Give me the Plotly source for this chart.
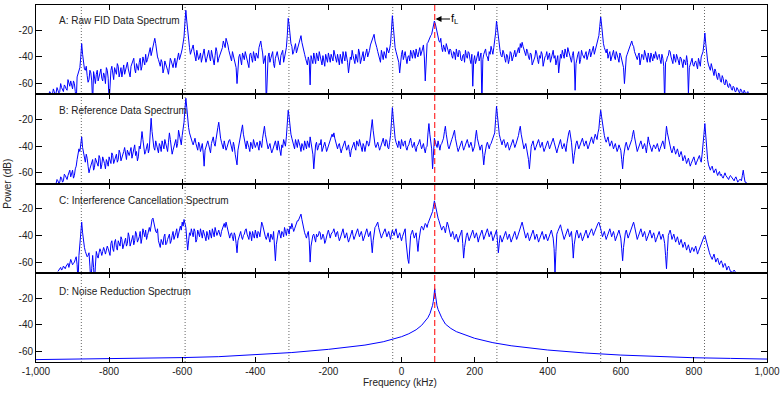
import plotly.graph_objects as go

N = None
FREQ_START = -1000   # kHz
FREQ_STEP = 2.5      # kHz
N_POINTS = 800
freq_khz = [FREQ_START + FREQ_STEP * i for i in range(N_POINTS)]

# Values are read at 5 kHz steps ("even" samples at -1000, -995, ...) and at the
# half-way frequencies ("odd" samples at -997.5, -992.5, ...). One row = 100 kHz.

# A: Raw FID data spectrum (dB)
raw_fid_even = [
    N, N, N, N, N, N, N, -68, -67, -68, -66, -67, -65, -66, -63, -66, -62, -65, -61, -58,
    -64, -60, -75, -52, -48, -30, -44, -50, -54, -57, -52, -75, -55, -53, -58, -51, -56, -52, -60, -50,
    -75, -50, -54, -48, -53, -47, -51, -55, -46, -50, -44, -52, -47, -43, -49, -45, -50, -41, -47, -43,
    -38, -42, -35, -39, -31, -26, -36, -42, -47, -44, -49, -45, -50, -46, -43, -48, -41, -44, -37, -40,
    -34, -25, -5, -22, -33, -36, -31, -40, -35, -42, -37, -41, -34, -44, -38, -40, -35, -43, -39, -36,
    -41, -37, -33, -30, -26, -31, -38, -43, -39, -46, -60, -40, -44, -37, -42, -39, -45, -38, -41, -36,
    -43, -39, -33, -28, -37, -42, -75, -40, -44, -38, -45, -41, -36, -43, -39, -35, -41, -33, -11, -26,
    -32, -36, -30, -34, -28, -24, -33, -38, -44, -40, -61, -42, -37, -45, -40, -36, -43, -39, -47, -41,
    -37, -44, -40, -35, -42, -38, -46, -41, -36, -43, -39, -52, -40, -35, -42, -38, -44, -37, -41, -36,
    -40, -34, -38, -31, -27, -23, -30, -36, -40, -35, -42, -38, -33, -37, -30, -9, -28, -36, -40, -52,
    -38, -42, -36, -45, -39, -35, -41, -37, -34, -40, -33, -37, -31, -58, -30, -27, -24, -20, -13, -19,
    -25, -29, -33, -31, -36, -33, -38, -35, -41, -37, -34, -40, -36, -43, -38, -35, -41, -37, -45, -62,
    -39, -42, -36, -40, -75, -38, -34, -40, -36, -32, -38, -29, -13, -27, -36, -40, -37, -44, -39, -42,
    -37, -41, -35, -38, -33, -30, -29, -34, -39, -36, -42, -38, -44, -40, -37, -45, -41, -38, -43, -39,
    -42, -37, -40, -35, -39, -43, -52, -38, -35, -41, -37, -33, -39, -44, -36, -65, -40, -36, -42, -38,
    -41, -36, -39, -34, -37, -32, -35, -30, -24, -10, -25, -33, -37, -41, -36, -40, -35, -42, -38, -44,
    -39, -45, -60, -40, -36, -33, -28, -32, -38, -42, -37, -43, -39, -35, -41, -37, -44, -40, -38, -36,
    -42, -38, -45, -41, -75, -43, -39, -36, -42, -38, -44, -40, -46, -41, -48, -43, -39, -68, -45, -41,
    -47, -43, -49, -44, -40, -36, -22, -38, -46, -50, -48, -54, -51, -57, -53, -59, -56, -61, -58, -63,
    -61, -65, -63, -66, -64, -67, -65, -68, -66, -67, -68, N, N, N, N, N, N, N, N, N,
]
raw_fid_odd = [
    N, N, N, N, N, N, N, -66, -69, -64, -68, -63, -67, -60, -65, -61, -64, -57, -62, -61,
    -58, -66, -55, -49, -40, -38, -49, -47, -59, -50, -58, -51, -60, -50, -55, -49, -58, -54, -48, -56,
    -54, -47, -57, -50, -45, -55, -48, -51, -53, -47, -49, -55, -45, -41, -52, -47, -44, -50, -40, -46,
    -44, -39, -33, -36, -29, -30, -40, -45, -42, -52, -43, -47, -53, -41, -46, -44, -48, -40, -42, -37,
    -30, -14, -13, -28, -38, -34, -36, -43, -38, -40, -44, -38, -40, -41, -35, -43, -39, -46, -33, -44,
    -39, -35, -28, -33, -28, -35, -41, -36, -42, -48, -45, -38, -46, -40, -36, -42, -48, -37, -44, -40,
    -37, -41, -31, -33, -45, -39, -46, -37, -41, -36, -48, -38, -40, -46, -37, -44, -36, -24, -16, -30,
    -38, -33, -37, -31, -27, -29, -36, -41, -46, -43, -39, -45, -40, -37, -43, -39, -46, -42, -38, -44,
    -41, -38, -43, -39, -44, -41, -38, -45, -39, -36, -44, -46, -42, -39, -45, -41, -34, -45, -39, -43,
    -37, -40, -35, -29, -25, -28, -33, -39, -44, -38, -36, -41, -35, -34, -20, -17, -33, -39, -44, -41,
    -35, -39, -41, -40, -43, -38, -35, -41, -38, -36, -39, -34, -40, -36, -29, -25, -23, -17, -15, -23,
    -28, -26, -36, -34, -30, -37, -34, -39, -36, -42, -38, -35, -42, -39, -44, -39, -36, -42, -38, -43,
    -45, -38, -43, -37, -42, -35, -39, -43, -38, -35, -33, -22, -19, -32, -39, -35, -41, -38, -45, -36,
    -43, -38, -40, -35, -37, -33, -32, -37, -34, -40, -37, -46, -41, -35, -42, -39, -36, -47, -40, -36,
    -39, -44, -36, -41, -46, -39, -44, -41, -38, -34, -40, -36, -42, -39, -43, -45, -38, -45, -35, -40,
    -38, -42, -37, -40, -35, -38, -33, -28, -17, -16, -30, -36, -34, -38, -43, -37, -40, -36, -41, -37,
    -42, -48, -43, -38, -34, -30, -31, -36, -40, -39, -46, -38, -42, -38, -44, -41, -37, -43, -41, -40,
    -39, -42, -38, -47, -44, -40, -35, -40, -45, -41, -38, -43, -40, -45, -42, -46, -44, -48, -43, -46,
    -44, -46, -41, -47, -38, -30, -30, -43, -49, -45, -52, -49, -55, -52, -58, -54, -60, -57, -62, -60,
    -64, -62, -66, -63, -66, -64, -67, -65, -68, -66, N, N, N, N, N, N, N, N, N, N,
]

# B: Reference data spectrum (dB)
reference_even = [
    N, N, N, N, N, N, N, N, N, N, N, -68, -66, -67, -64, -66, -62, -65, -60, -63,
    -58, -62, -55, -47, -44, -33, -46, -52, -49, -60, -54, -50, -56, -51, -55, -49, -54, -50, -57, -52,
    -48, -53, -47, -51, -46, -50, -45, -49, -44, -48, -43, -47, -41, -46, -39, -44, -48, -42, -29, -40,
    -44, -38, -42, -19, -37, -43, -39, -45, -40, -36, -42, -38, -44, -30, -39, -43, -37, -41, -28, -36,
    -32, -22, -4, -20, -30, -35, -39, -34, -41, -37, -44, -38, -55, -40, -36, -42, -38, -33, -40, -28,
    -22, -34, -40, -36, -43, -38, -35, -41, -37, -46, -54, -39, -33, -24, -36, -42, -38, -44, -39, -35,
    -41, -37, -43, -39, -34, -25, -36, -42, -38, -45, -40, -36, -43, -39, -47, -41, -37, -33, -13, -27,
    -34, -39, -35, -41, -37, -44, -40, -36, -42, -38, -33, -40, -57, -39, -43, -38, -35, -41, -37, -44,
    -40, -36, -31, -30, -37, -42, -38, -45, -40, -36, -43, -39, -48, -41, -37, -43, -39, -35, -42, -38,
    -44, -36, -40, -33, -20, -35, -41, -37, -43, -38, -34, -40, -36, -42, -32, -11, -29, -37, -41, -38,
    -35, -40, -36, -43, -39, -34, -41, -37, -44, -39, -35, -42, -38, -45, -40, -23, -36, -57, -34, -39,
    -36, -43, -38, -34, -25, -37, -42, -38, -33, -28, -39, -44, -40, -36, -43, -39, -35, -41, -37, -44,
    -40, -28, -38, -43, -39, -54, -41, -37, -42, -38, -34, -30, -10, -26, -34, -39, -35, -41, -37, -43,
    -39, -35, -41, -37, -32, -25, -36, -42, -38, -45, -57, -40, -36, -43, -39, -35, -41, -37, -44, -40,
    -36, -42, -38, -34, -40, -45, -39, -35, -42, -38, -44, -33, -28, -37, -53, -40, -36, -42, -38, -34,
    -40, -36, -42, -37, -33, -38, -31, -35, -27, -13, -24, -32, -37, -33, -40, -36, -42, -38, -44, -39,
    -43, -57, -41, -37, -43, -39, -35, -28, -38, -44, -40, -36, -42, -38, -45, -33, -40, -44, -39, -42,
    -38, -44, -40, -36, -42, -25, -34, -41, -45, -40, -46, -42, -48, -44, -51, -47, -53, -49, -55, -51,
    -48, -54, -50, -47, -52, -40, -23, -45, -54, -58, -55, -60, -57, -62, -59, -61, -64, -60, -63, -65,
    -62, -64, -66, -63, -67, -65, -66, -58, -67, -68, N, N, N, N, N, N, N, N, N, N,
]
reference_odd = [
    N, N, N, N, N, N, N, N, N, N, N, -65, -68, -63, -67, -61, -64, -62, -58, -61,
    -64, -57, -50, -42, -37, -41, -50, -46, -55, -57, -51, -58, -49, -53, -47, -57, -48, -53, -50, -55,
    -51, -45, -53, -48, -52, -43, -51, -46, -41, -50, -45, -44, -49, -42, -47, -51, -40, -36, -35, -46,
    -40, -45, -30, -29, -41, -36, -43, -38, -44, -39, -35, -41, -37, -35, -46, -40, -35, -38, -33, -39,
    -28, -12, -11, -26, -33, -37, -36, -38, -43, -39, -41, -45, -43, -37, -39, -45, -36, -38, -35, -26,
    -29, -37, -42, -39, -41, -36, -38, -44, -40, -50, -43, -36, -29, -31, -39, -36, -41, -37, -42, -38,
    -39, -40, -36, -41, -30, -31, -39, -40, -42, -43, -38, -40, -36, -44, -39, -35, -40, -24, -18, -31,
    -37, -42, -38, -35, -40, -38, -43, -39, -36, -41, -37, -46, -45, -37, -41, -39, -44, -38, -40, -42,
    -38, -34, -33, -34, -40, -39, -42, -42, -38, -40, -41, -44, -43, -39, -41, -36, -40, -38, -44, -40,
    -39, -37, -38, -27, -28, -39, -38, -40, -41, -36, -38, -35, -41, -37, -22, -19, -34, -39, -36, -42,
    -38, -37, -41, -40, -36, -38, -39, -42, -40, -37, -39, -40, -42, -41, -30, -31, -42, -43, -37, -41,
    -40, -39, -36, -29, -31, -40, -39, -35, -31, -34, -41, -42, -38, -40, -41, -37, -38, -39, -40, -42,
    -33, -34, -41, -40, -46, -47, -39, -40, -39, -36, -32, -20, -17, -31, -37, -36, -38, -39, -40, -41,
    -37, -38, -39, -34, -28, -31, -39, -40, -42, -50, -47, -38, -40, -41, -37, -38, -39, -41, -42, -38,
    -39, -40, -36, -37, -43, -42, -37, -39, -40, -41, -38, -30, -32, -45, -47, -38, -39, -40, -36, -37,
    -38, -39, -40, -35, -36, -34, -33, -30, -19, -18, -28, -35, -35, -37, -38, -39, -40, -41, -42, -41,
    -50, -48, -39, -40, -41, -37, -31, -33, -41, -42, -38, -39, -40, -41, -39, -37, -42, -41, -40, -40,
    -41, -42, -38, -39, -33, -30, -38, -43, -42, -43, -44, -45, -46, -47, -49, -50, -51, -52, -53, -50,
    -51, -52, -48, -50, -46, -31, -34, -50, -56, -56, -58, -58, -60, -60, -62, -63, -62, -62, -64, -63,
    -63, -65, -64, -65, -66, -65, -62, -63, -67, N, N, N, N, N, N, N, N, N, N, N,
]

# C: Interference cancellation spectrum (dB)
cancelled_even = [
    N, N, N, N, N, N, N, N, N, N, N, N, -67, -65, -66, -63, -65, -62, -64, -58,
    -62, -60, -56, -75, -47, -30, -46, -52, -56, -53, -75, -55, -75, -52, -57, -50, -55, -49, -54, -48,
    -52, -46, -50, -45, -49, -44, -48, -43, -47, -42, -46, -41, -45, -40, -44, -39, -43, -37, -42, -38,
    -36, -40, -34, -30, -27, -33, -38, -44, -49, -45, -41, -47, -43, -39, -44, -37, -41, -35, -39, -33,
    -30, -28, -34, -51, -38, -35, -41, -37, -43, -39, -35, -42, -38, -44, -40, -36, -42, -38, -34, -40,
    -36, -41, -35, -31, -30, -37, -42, -38, -44, -40, -53, -41, -37, -43, -39, -35, -41, -37, -44, -40,
    -36, -42, -38, -34, -32, -39, -43, -38, -45, -41, -37, -59, -40, -36, -42, -38, -34, -40, -36, -33,
    -31, -37, -33, -29, -27, -24, -32, -38, -42, -37, -60, -43, -39, -45, -41, -37, -43, -39, -46, -40,
    -36, -42, -38, -35, -41, -37, -44, -39, -35, -42, -38, -45, -40, -36, -43, -39, -35, -41, -37, -44,
    -39, -35, -41, -37, -53, -36, -33, -30, -37, -42, -38, -35, -41, -37, -43, -36, -40, -35, -42, -38,
    -44, -39, -35, -55, -61, -40, -36, -42, -38, -52, -37, -33, -36, -31, -34, -29, -26, -22, -14, -21,
    -27, -32, -36, -33, -38, -30, -35, -41, -37, -43, -39, -45, -40, -36, -57, -42, -38, -44, -40, -36,
    -42, -38, -45, -40, -36, -43, -39, -35, -41, -37, -44, -40, -36, -53, -40, -45, -41, -37, -43, -39,
    -45, -41, -37, -43, -39, -34, -30, -36, -42, -38, -44, -40, -36, -43, -39, -45, -41, -37, -43, -39,
    -44, -40, -36, -42, -68, -39, -35, -32, -38, -43, -39, -35, -41, -37, -57, -40, -36, -42, -38, -44,
    -40, -36, -42, -38, -35, -40, -36, -32, -30, -35, -41, -37, -43, -39, -35, -41, -37, -44, -40, -36,
    -42, -59, -40, -36, -42, -38, -33, -30, -37, -43, -39, -35, -41, -37, -44, -40, -36, -42, -38, -45,
    -41, -37, -43, -39, -46, -65, -40, -36, -43, -39, -45, -41, -47, -43, -49, -45, -51, -47, -53, -49,
    -52, -48, -54, -50, -46, -43, -40, -46, -52, -55, -58, -54, -60, -57, -62, -59, -64, -61, -66, -63,
    -67, -68, -66, -68, N, N, N, N, N, N, N, N, N, N, N, N, N, N, N, N,
]
cancelled_odd = [
    N, N, N, N, N, N, N, N, N, N, N, N, -66, -64, -65, -64, -63, -61, -60, -60,
    -61, -58, -62, -55, -38, -38, -49, -54, -55, -63, -65, -64, -63, -55, -53, -52, -52, -51, -51, -50,
    -55, -44, -52, -43, -51, -47, -41, -50, -45, -48, -38, -48, -43, -47, -37, -45, -41, -46, -35, -41,
    -43, -36, -37, -28, -31, -37, -35, -46, -43, -47, -39, -46, -41, -46, -40, -43, -38, -42, -34, -36,
    -33, -31, -43, -44, -40, -38, -35, -45, -36, -41, -38, -36, -41, -37, -43, -39, -35, -41, -37, -38,
    -39, -37, -33, -34, -33, -40, -39, -41, -38, -46, -44, -38, -41, -40, -36, -39, -43, -39, -37, -42,
    -40, -37, -41, -30, -36, -41, -40, -42, -39, -43, -45, -47, -38, -39, -37, -41, -37, -35, -39, -35,
    -34, -35, -31, -29, -25, -28, -35, -40, -39, -44, -48, -40, -42, -39, -40, -38, -42, -41, -44, -38,
    -40, -39, -37, -39, -38, -41, -42, -37, -39, -40, -42, -43, -38, -40, -41, -37, -38, -39, -40, -42,
    -37, -38, -39, -45, -44, -34, -31, -34, -40, -40, -36, -38, -39, -40, -39, -38, -37, -39, -40, -41,
    -41, -37, -45, -58, -50, -38, -39, -40, -45, -44, -35, -34, -33, -32, -31, -27, -24, -18, -17, -24,
    -29, -34, -34, -35, -34, -32, -38, -39, -40, -41, -42, -42, -38, -46, -49, -40, -41, -42, -38, -39,
    -40, -41, -42, -38, -39, -41, -37, -38, -39, -40, -42, -38, -44, -46, -42, -43, -39, -40, -41, -42,
    -43, -39, -40, -41, -36, -32, -33, -39, -40, -41, -42, -38, -39, -41, -42, -43, -39, -40, -41, -42,
    -42, -38, -39, -50, -52, -37, -33, -35, -40, -41, -37, -38, -39, -45, -47, -38, -39, -40, -41, -42,
    -38, -39, -40, -36, -37, -38, -34, -31, -32, -38, -39, -40, -41, -37, -38, -39, -40, -42, -38, -39,
    -50, -49, -38, -39, -40, -35, -31, -33, -40, -41, -37, -38, -39, -40, -42, -38, -39, -40, -41, -43,
    -39, -40, -41, -42, -55, -52, -38, -39, -41, -42, -43, -44, -45, -46, -47, -48, -49, -50, -51, -50,
    -50, -51, -52, -48, -44, -41, -43, -49, -53, -56, -56, -57, -58, -60, -60, -61, -62, -63, -64, -65,
    -67, -67, -67, N, N, N, N, N, N, N, N, N, N, N, N, N, N, N, N, N,
]

# D: Noise reduction spectrum (dB), read at selected frequencies
nr_freq_khz = [-1000, -800, -600, -500, -400, -300, -200, -150, -100, -50, -20, 0, 20, 40, 55,
               65, 72, 78, 82, 85, 87, 89, 90, 91, 92, 93, 95, 97, 100, 104, 110, 120, 135,
               150, 175, 200, 250, 300, 400, 500, 600, 700, 800, 900, 1000]
nr_db = [-66.2, -65.6, -64.7, -64.0, -62.6, -60.9, -58.5, -57.0, -55.3, -52.8, -50.8, -49.0,
         -46.8, -43.8, -40.5, -37.5, -34.8, -31.5, -28.5, -25.5, -22.5, -18.5, -16.0, -13.0,
         -16.0, -18.5, -22.5, -25.5, -28.5, -31.5, -34.8, -39.5, -42.8, -45.2, -48.0, -50.2,
         -53.5, -55.8, -59.0, -61.2, -62.8, -64.0, -64.8, -65.3, -65.8]

panel_titles = ["A: Raw FID Data Spectrum", "B: Reference Data Spectrum",
                "C: Interference Cancellation Spectrum", "D: Noise Reduction Spectrum"]
harmonic_lines_khz = [-876, -592, -308, -24, 261, 545, 829]
larmor_khz = 91

x_tickvals = [-1000, -800, -600, -400, -200, 0, 200, 400, 600, 800, 1000]
x_ticktext = ["-1,000", "-800", "-600", "-400", "-200", "0", "200", "400", "600", "800", "1,000"]
y_tickvals = [-60, -40, -20]
y_ticktext = ["-60", "-40", "-20"]


def interleave(even, odd):
    out = []
    for a, b in zip(even, odd):
        out.append(a)
        out.append(b)
    return out


FONT = "Arial, Liberation Sans, Helvetica, sans-serif"
BLUE = "#0000ff"

fig = go.Figure()
series = [(freq_khz, interleave(raw_fid_even, raw_fid_odd)),
          (freq_khz, interleave(reference_even, reference_odd)),
          (freq_khz, interleave(cancelled_even, cancelled_odd)),
          (nr_freq_khz, nr_db)]
domains = [(0.75, 1.0), (0.5, 0.75), (0.25, 0.5), (0.0, 0.25)]

layout = {}
for k, (xs, ys) in enumerate(series):
    sfx = "" if k == 0 else str(k + 1)
    fig.add_trace(go.Scatter(x=xs, y=ys, mode="lines", xaxis="x" + sfx, yaxis="y" + sfx,
                             line=dict(color=BLUE, width=1 if k < 3 else 1),
                             connectgaps=False, hoverinfo="skip", showlegend=False))
    layout["xaxis" + sfx] = dict(
        domain=[0, 1], anchor="y" + sfx, range=[-1000, 1000],
        tickmode="array", tickvals=x_tickvals, ticktext=x_ticktext,
        showticklabels=(k == 3), ticks="inside", ticklen=5, tickwidth=1, tickcolor="#000",
        showline=True, linecolor="#000", linewidth=1, mirror="ticks",
        showgrid=False, zeroline=False,
        tickfont=dict(family=FONT, size=10, color="#222"),
    )
    layout["yaxis" + sfx] = dict(
        domain=list(domains[k]), anchor="x" + sfx, range=[-68, -1],
        tickmode="array", tickvals=y_tickvals, ticktext=y_ticktext,
        ticks="inside", ticklen=6, tickwidth=1, tickcolor="#000",
        showline=True, linecolor="#000", linewidth=1, mirror="ticks",
        showgrid=False, zeroline=False,
        tickfont=dict(family=FONT, size=10, color="#222"),
    )

shapes = []
for f in harmonic_lines_khz:
    shapes.append(dict(type="line", xref="x4", yref="paper", x0=f, x1=f, y0=0, y1=1,
                       line=dict(color="#666666", width=1, dash="1px,2px"), layer="below"))
shapes.append(dict(type="line", xref="x4", yref="paper", x0=larmor_khz, x1=larmor_khz,
                   y0=0, y1=1, line=dict(color="#ff0000", width=1, dash="6px,3px"),
                   layer="above"))

label_offsets = [16, 16, 17, 18.5]
annotations = []
for k, title in enumerate(panel_titles):
    annotations.append(dict(text=title, xref="paper", yref="paper", x=21 / 735,
                            y=domains[k][1] - label_offsets[k] / 358,
                            xanchor="left", yanchor="middle", showarrow=False,
                            font=dict(family=FONT, size=10, color="#222")))
annotations.append(dict(text="f<sub>L</sub>", x=larmor_khz + 2, y=-11.5, xref="x", yref="y",
                        showarrow=True, arrowhead=2, arrowsize=1, arrowwidth=1.2,
                        arrowcolor="#000", ax=20, ay=0,
                        font=dict(family=FONT, size=11, color="#000")))
annotations.append(dict(text="Power (dB)", xref="paper", yref="paper", x=-29 / 735, y=0.5,
                        textangle=-90, showarrow=False, xanchor="center", yanchor="middle",
                        font=dict(family=FONT, size=10, color="#222")))
annotations.append(dict(text="Frequency (kHz)", xref="paper", yref="paper", x=0.498,
                        y=-21 / 358, showarrow=False, xanchor="center", yanchor="middle",
                        font=dict(family=FONT, size=10, color="#222")))

fig.update_layout(
    width=784, height=393,
    margin=dict(l=36, r=13, t=4, b=31, pad=0),
    paper_bgcolor="white", plot_bgcolor="rgba(0,0,0,0)",
    shapes=shapes, annotations=annotations,
    font=dict(family=FONT, size=10, color="#222"),
    **layout,
)

fig.write_html("out.html", config={"displayModeBar": False},
               post_script="document.body.style.margin='0';"
                           "document.body.style.overflow='hidden';")
